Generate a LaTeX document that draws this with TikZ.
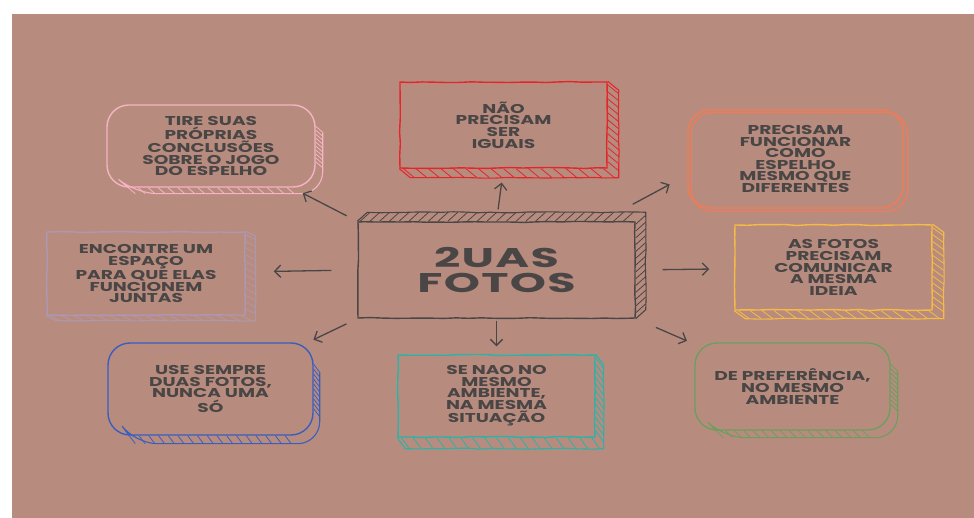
\documentclass[tikz,border=0pt]{standalone}
\usepackage{fontspec}
\setmainfont{Poppins}
\newfontfamily\boxfont{Poppins}[FakeStretch=1.45]
\newfontfamily\titlefont{Poppins}[FakeStretch=1.7, LetterSpace=5]
\usepackage{tikz}
\usetikzlibrary{calc, arrows.meta, decorations.pathmorphing}

\newlength{\pxu}
\setlength{\pxu}{0.2mm}

\definecolor{bg}{HTML}{B78C7F}
\definecolor{ink}{HTML}{4A4645}
\definecolor{pinkc}{HTML}{F6B3C2}
\definecolor{redc}{HTML}{E3262B}
\definecolor{orangec}{HTML}{F27B55}
\definecolor{lavc}{HTML}{A99DC9}
\definecolor{yelc}{HTML}{F7BA45}
\definecolor{bluec}{HTML}{3A5DBE}
\definecolor{tealc}{HTML}{2CB2A9}
\definecolor{greenc}{HTML}{6E9E5E}

% depth behind a box, to the lower right, with hatching
\newcommand{\depthbox}[4]{%
  \draw[#2, line width=1.1\pxu, sketch] (#1.north east) -- ++(#3,#4)
    -- ($(#1.south east)+(#3,#4)$) -- ($(#1.south west)+(#3,#4)$) -- (#1.south west);
  \foreach \t in {0.04,0.12,...,0.97}
    \draw[#2, line width=0.8\pxu] ($(#1.north east)!\t!(#1.south east)$) -- ++(#3,#4);
  \foreach \t in {0.02,0.08,...,0.99}
    \draw[#2, line width=0.8\pxu] ($(#1.south west)!\t!(#1.south east)$) -- ++(#3,#4);
}
% same for a rounded box
\newcommand{\depthround}[5]{%
  \coordinate (r1) at ($(#1.north east)+(0,#5)$);
  \coordinate (r2) at ($(#1.south east)+(0,-#5)$);
  \coordinate (r3) at ($(#1.south west)+(#5,0)$);
  \coordinate (r4) at ($(#1.south east)+(-#5,0)$);
  \draw[#2, line width=1.1\pxu, rounded corners=#5\pxu] ($(r1)+(#3,#4)$)
    -- ($(#1.south east)+(#3,#4)$) -- ($(r3)+(#3,#4)$) -- (r3);
  \foreach \t in {0,0.1,...,1}
    \draw[#2, line width=0.8\pxu] ($(r1)!\t!(r2)$) -- ++(#3,#4);
  \foreach \t in {0,0.06,...,1}
    \draw[#2, line width=0.8\pxu] ($(r3)!\t!(r4)$) -- ++(#3,#4);
}

\begin{document}
\begin{tikzpicture}[x=0.2mm, y=-0.2mm,
  sketch/.style={decorate, decoration={random steps, segment length=7pt, amplitude=0.3pt}},
  box/.style={draw=#1, line width=1.4\pxu, text=ink, align=center, inner sep=0pt,
    font=\boxfont\bfseries\fontsize{7.3}{6.6}\selectfont},
  sqbox/.style={box=#1, sketch},
  rbox/.style={box=#1, rounded corners=22\pxu},
  arr/.style={ink, line width=1.3\pxu, -{Straight Barb[length=3.5pt, width=7pt]}}]
\pgfmathsetseed{4}
\useasboundingbox (0,0) rectangle (974,518);
\fill[white] (0,0) rectangle (974,518);
\fill[bg] (12,14) rectangle (974,518);

% centre
\node[sqbox=ink, minimum width=277\pxu, minimum height=96\pxu,
  font=\titlefont\bfseries\fontsize{15.4}{14}\selectfont] (main) at (496.5,270) {2UAS\\FOTOS};
\draw[ink, line width=1.1\pxu, sketch] (main.north west) -- ++(10,-9)
  -- ($(main.north east)+(10,-9)$) -- ($(main.south east)+(10,-9)$) -- (main.south east);
\foreach \t in {0.01,0.045,...,0.99}
  \draw[ink, line width=0.8\pxu] ($(main.north west)!\t!(main.north east)$) -- ++(10,-9);
\foreach \t in {0.03,0.1,...,0.97}
  \draw[ink, line width=0.8\pxu] ($(main.north east)!\t!(main.south east)$) -- ++(10,-9);

% top row
\node[rbox=pinkc, minimum width=208\pxu, minimum height=82\pxu]
  (pink) at (211,146) {TIRE SUAS\\PRÓPRIAS\\CONCLUSÕES\\SOBRE O JOGO\\DO ESPELHO};
\depthround{pink}{pinkc}{7}{6}{22}

\node[sqbox=redc, minimum width=207\pxu, minimum height=86\pxu]
  (red) at (503.5,125) {NÃO\\PRECISAM\\SER\\IGUAIS};
\depthbox{red}{redc}{11}{9}

\node[rbox=orangec, minimum width=215\pxu, minimum height=98\pxu]
  (orange) at (795.5,159) {PRECISAM\\FUNCIONAR\\COMO\\ESPELHO\\MESMO QUE\\DIFERENTES};
\draw[orangec, line width=1.1\pxu, rounded corners=22\pxu]
  ([shift={(4,3)}]orange.north west) rectangle ([shift={(4,3)}]orange.south east);

% middle row
\node[sqbox=lavc, draw opacity=.7, minimum width=198\pxu, minimum height=83\pxu]
  (lav) at (146,273.5) {ENCONTRE UM\\ESPAÇO\\PARA QUE ELAS\\FUNCIONEM\\JUNTAS};
\begin{scope}[opacity=.6]
\depthbox{lav}{lavc}{10}{5}
\end{scope}

\node[sqbox=yelc, minimum width=197\pxu, minimum height=85\pxu]
  (yel) at (833.5,267.5) {AS FOTOS\\PRECISAM\\COMUNICAR\\A MESMA\\IDEIA};
\depthbox{yel}{yelc}{11}{8}

% bottom row
\node[rbox=bluec, minimum width=205\pxu, minimum height=92\pxu]
  (blue) at (210.5,389) {USE SEMPRE\\DUAS FOTOS,\\NUNCA UMA\\SÓ};
\depthround{blue}{bluec}{6}{8}{22}

\node[sqbox=tealc, minimum width=197\pxu, minimum height=82\pxu]
  (teal) at (496.5,396) {SE NAO NO\\MESMO\\AMBIENTE,\\NA MESMA\\SITUAÇÃO};
\depthbox{teal}{tealc}{8}{11}

\node[rbox=greenc, minimum width=195\pxu, minimum height=87\pxu]
  (green) at (792.5,386.5) {DE PREFERÊNCIA,\\NO MESMO\\AMBIENTE};
\depthround{green}{greenc}{7}{7}{22}

% arrows
\draw[arr, shorten <=12\pxu, shorten >=12\pxu] (main.north west) -- (pink);
\draw[arr, shorten <=12\pxu, shorten >=14\pxu] (main.north) -- (red.south);
\draw[arr, shorten >=20\pxu] ([shift={(-3,-17)}]main.north east) -- ([shift={(0,16)}]orange.west);
\draw[arr, shorten <=26\pxu, shorten >=28\pxu] (main.west) -- (lav);
\draw[arr, shorten <=27\pxu, shorten >=25\pxu] (main.east) -- (yel);
\draw[arr, shorten <=12\pxu, shorten >=6\pxu] (main.south west) -- (blue);
\draw[arr, shorten <=2\pxu, shorten >=8\pxu] (main.south) -- (teal);
\draw[arr, shorten <=22\pxu, shorten >=8\pxu] (main.south east) -- (green);
\end{tikzpicture}
\end{document}
